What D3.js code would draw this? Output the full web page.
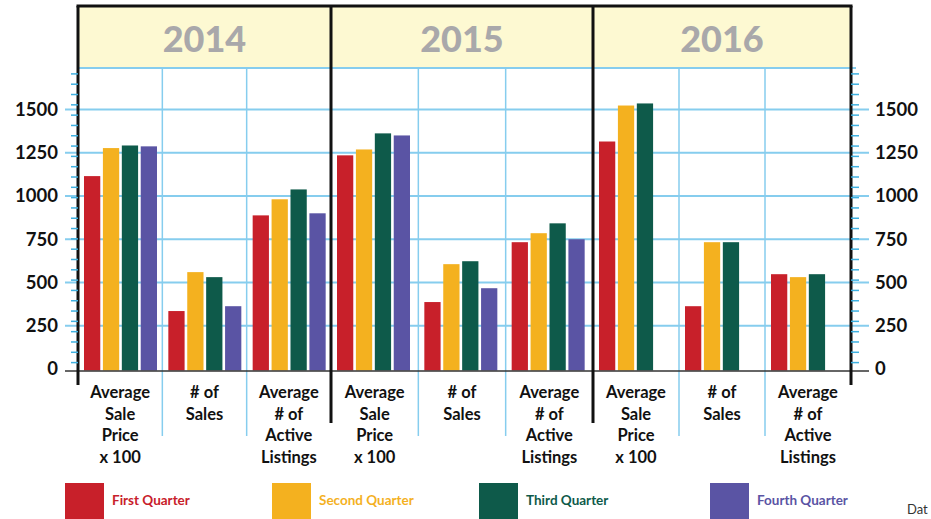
<!DOCTYPE html>
<html>
<head>
  <meta charset="utf-8">
  <title>Quarterly Sales 2014-2016</title>
  <style>
    body { margin: 0; background: #fff; }
    svg { display: block; }
    text { font-family: Lato, "Open Sans", sans-serif; }
  </style>
</head>
<body>
  <div id="chart"></div>

  <script src="https://cdn.jsdelivr.net/npm/d3@7"></script>

  <script>
    // data
    const years = ['2014', '2015', '2016'];
    const categories = ['Average Sale Price x 100', '# of Sales', 'Average # of Active Listings'];
    const categoryLines = [
      ['Average', 'Sale', 'Price', 'x 100'],
      ['# of', 'Sales'],
      ['Average', '# of', 'Active', 'Listings']
    ];
    const quarters = ['First Quarter', 'Second Quarter', 'Third Quarter', 'Fourth Quarter'];
    // values by year then category: 2014 (3), 2015 (3), 2016 (3)
    const firstQuarter = [1115, 335, 888, 1235, 387, 733, 1315, 363, 548];
    const secondQuarter = [1277, 560, 981, 1269, 606, 785, 1523, 733, 531];
    const thirdQuarter = [1292, 531, 1038, 1362, 623, 842, 1535, 733, 548];
    const fourthQuarter = [1287, 363, 900, 1350, 467, 750, null, null, null];
    const yTicks = [0, 250, 500, 750, 1000, 1250, 1500];

    const series = [firstQuarter, secondQuarter, thirdQuarter, fourthQuarter];
    const colors = ['#c8202a', '#f4b11f', '#0e5a4a', '#5a54a4'];

    const width = 931, height = 519;
    const frameTop = 6, plotTop = 68;
    const panelEdges = [78, 331, 593, 851];

    const svg = d3.select('#chart')
      .append('svg')
      .attr('width', width)
      .attr('height', height);

    //y scale
    let y = d3.scaleLinear()
      .domain([0, 1500])
      .range([369, 109.5]);

    // header band
    svg.append('rect')
      .attr('x', panelEdges[0])
      .attr('y', frameTop)
      .attr('width', panelEdges[3] - panelEdges[0])
      .attr('height', plotTop - frameTop)
      .attr('fill', '#fdf9d2');

    // horizontal grid
    svg.selectAll('.grid')
      .data(yTicks.filter(d => d > 0))
      .join('line')
      .attr('x1', 65).attr('x2', 869)
      .attr('y1', d => y(d)).attr('y2', d => y(d))
      .attr('stroke', '#86cdee').attr('stroke-width', 2);

    svg.append('line')
      .attr('x1', panelEdges[0]).attr('x2', 856)
      .attr('y1', plotTop).attr('y2', plotTop)
      .attr('stroke', '#86cdee').attr('stroke-width', 2);

    // panels
    years.forEach((year, i) => {
      let x0 = d3.scaleBand()
        .domain(categories)
        .range([panelEdges[i], panelEdges[i + 1]]);

      let x1 = d3.scaleBand()
        .domain(quarters)
        .range([6, 79])
        .paddingInner(0.14);

      let g = svg.append('g');

      // category dividers
      g.selectAll('.divider')
        .data(categories.slice(1))
        .join('line')
        .attr('x1', d => x0(d)).attr('x2', d => x0(d))
        .attr('y1', plotTop).attr('y2', 436)
        .attr('stroke', '#86cdee').attr('stroke-width', 1.5);

      categories.forEach((cat, c) => {
        let vals = series.map((s, q) => ({ q: q, v: s[i * 3 + c] }))
          .filter(d => d.v != null);

        g.selectAll(null)
          .data(vals)
          .join('rect')
          .attr('x', d => x0(cat) + x1(quarters[d.q]))
          .attr('y', d => y(d.v))
          .attr('width', x1.bandwidth())
          .attr('height', d => y(0) - y(d.v) + 1.5)
          .attr('fill', d => colors[d.q]);

        // category label
        g.append('text')
          .attr('x', x0(cat) + x0.bandwidth() / 2)
          .attr('text-anchor', 'middle')
          .attr('font-family', '"Open Sans", sans-serif')
          .attr('font-size', 16.5)
          .attr('font-weight', 700)
          .attr('fill', '#111')
          .selectAll('tspan')
          .data(categoryLines[c])
          .join('tspan')
          .attr('x', x0(cat) + x0.bandwidth() / 2)
          .attr('y', (d, k) => 398 + k * 21.5)
          .text(d => d);
      });

      // year heading
      g.append('text')
        .attr('x', (panelEdges[i] + panelEdges[i + 1]) / 2)
        .attr('y', 52)
        .attr('text-anchor', 'middle')
        .attr('font-size', 36)
        .attr('font-weight', 900)
        .attr('fill', '#a9a8aa')
        .text(year);
    });

    // zero line
    svg.append('line')
      .attr('x1', 65).attr('x2', 869)
      .attr('y1', y(0) + 2).attr('y2', y(0) + 2)
      .attr('stroke', '#333').attr('stroke-width', 1.5);

    // black frame
    svg.append('line')
      .attr('x1', panelEdges[0] - 1.5).attr('x2', panelEdges[3] + 1.5)
      .attr('y1', frameTop).attr('y2', frameTop)
      .attr('stroke', '#111').attr('stroke-width', 3);

    svg.selectAll('.frame')
      .data(panelEdges)
      .join('line')
      .attr('x1', d => d).attr('x2', d => d)
      .attr('y1', frameTop)
      .attr('y2', (d, i) => (i === 0 || i === 3) ? 385 : 423)
      .attr('stroke', '#111').attr('stroke-width', 3);

    // minor ticks on both sides
    let minor = d3.range(37, 1740, 59.6);
    [[panelEdges[0] - 7, panelEdges[0]], [panelEdges[3], panelEdges[3] + 8]].forEach(([a, b]) => {
      svg.selectAll(null)
        .data(minor)
        .join('line')
        .attr('x1', a).attr('x2', b)
        .attr('y1', d => y(d)).attr('y2', d => y(d))
        .attr('stroke', '#3fb0e0').attr('stroke-width', 1.5);
    });

    // axis labels
    svg.selectAll('.ylabL')
      .data(yTicks)
      .join('text')
      .attr('x', 58)
      .attr('y', d => y(d))
      .attr('dy', '0.35em')
      .attr('text-anchor', 'end')
      .attr('font-size', 18.5)
      .attr('font-weight', 700)
      .attr('fill', '#111')
      .text(d => d);

    svg.selectAll('.ylabR')
      .data(yTicks)
      .join('text')
      .attr('x', 875)
      .attr('y', d => y(d))
      .attr('dy', '0.35em')
      .attr('font-size', 18.5)
      .attr('font-weight', 700)
      .attr('fill', '#111')
      .text(d => d);

    // legend
    const legendX = [65, 272, 479, 710];
    let legend = svg.selectAll('.legend')
      .data(quarters)
      .join('g')
      .attr('transform', (d, i) => `translate(${legendX[i]}, 483)`);

    legend.append('rect')
      .attr('width', 39).attr('height', 36)
      .attr('fill', (d, i) => colors[i]);

    legend.append('text')
      .attr('x', 47).attr('y', 22)
      .attr('font-family', 'Roboto, sans-serif')
      .attr('font-size', 13.5)
      .attr('font-weight', 700)
      .attr('fill', (d, i) => colors[i])
      .text(d => d);

    // source note, as far as the original shows it
    svg.append('text')
      .attr('x', 907).attr('y', 514)
      .attr('font-family', 'Roboto, sans-serif')
      .attr('font-size', 13)
      .attr('fill', '#333')
      .text('Dat');
  </script>
</body>
</html>
